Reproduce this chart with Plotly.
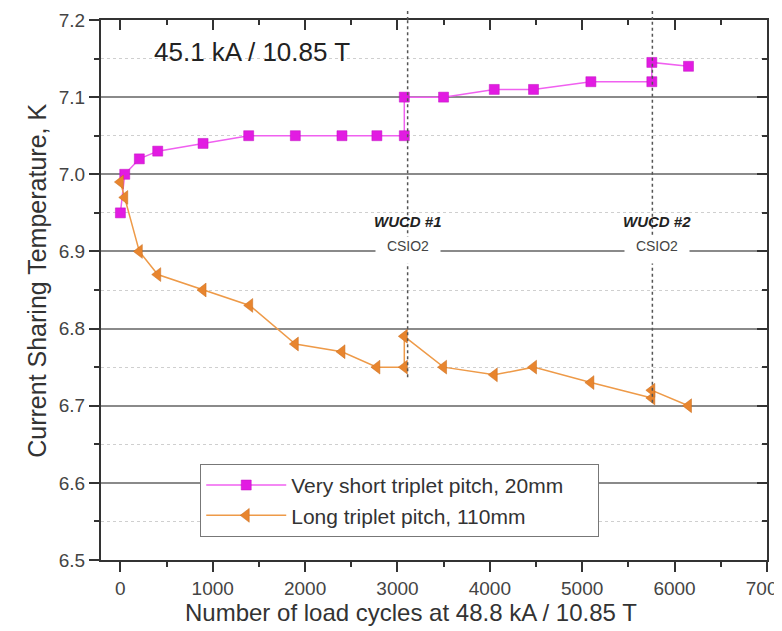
import plotly.graph_objects as go

# Data
short_x = [0, 47, 205, 404, 895, 1389, 1894, 2399, 2777, 3074, 3074, 3499, 4048, 4473, 5094, 5754, 5754, 6151]
short_y = [6.95, 7.00, 7.02, 7.03, 7.04, 7.05, 7.05, 7.05, 7.05, 7.05, 7.10, 7.10, 7.11, 7.11, 7.12, 7.12, 7.145, 7.14]
long_x = [0, 47, 205, 404, 895, 1400, 1894, 2399, 2777, 3074, 3074, 3499, 4048, 4473, 5094, 5754, 5754, 6151]
long_y = [6.99, 6.97, 6.90, 6.87, 6.85, 6.83, 6.78, 6.77, 6.75, 6.75, 6.79, 6.75, 6.74, 6.75, 6.73, 6.71, 6.72, 6.70]
series_names = ["Very short triplet pitch, 20mm\u00a0\u00a0\u00a0\u00a0\u00a0", "Long triplet pitch, 110mm"]
wucd_x = [3110, 5760]
wucd_bottom = [6.737, 6.704]
wucd_labels = ["WUCD #1", "WUCD #2"]
wucd_label_x = [3110, 5808]
x_title = "Number of load cycles at 48.8 kA / 10.85 T"
y_title = "Current Sharing Temperature, K"
x_range = [-210, 7001]
y_range = [6.5, 7.2]

FONT = "Liberation Sans, Arial, sans-serif"
AX = "#333333"

fig = go.Figure()
fig.add_trace(go.Scatter(
    x=short_x, y=short_y, mode="lines+markers", name=series_names[0],
    line=dict(color="#F060F0", width=1.5),
    marker=dict(symbol="square", size=10, color="#E21BE2", line=dict(color="#C010C0", width=0.5)),
))
fig.add_trace(go.Scatter(
    x=long_x, y=long_y, mode="lines+markers", name=series_names[1],
    line=dict(color="#EE9A48", width=1.5),
    marker=dict(symbol="triangle-left", size=12, color="#E8852E", line=dict(color="#C86A1A", width=0.5)),
))
# invisible trace for mirrored axes
fig.add_trace(go.Scatter(x=[x_range[0]], y=[y_range[0]], xaxis="x2", yaxis="y2",
                         mode="markers", marker=dict(opacity=0), showlegend=False, hoverinfo="skip"))

for xv, yb in zip(wucd_x, wucd_bottom):
    fig.add_shape(type="line", xref="x", yref="y", x0=xv, x1=xv, y0=yb, y1=7.2,
                  line=dict(color="#555555", width=1.5, dash="dot"))
    fig.add_shape(type="line", xref="x", yref="paper", x0=xv, x1=xv, y0=1.0, y1=1.022,
                  line=dict(color="#555555", width=1.5, dash="dot"))

annotations = [
    dict(x=1430, y=7.1585, xref="x", yref="y", text="45.1 kA / 10.85 T", showarrow=False,
         font=dict(family=FONT, size=26, color="#222222")),
    dict(x=0.4655, y=-0.0963, xref="paper", yref="paper", text=x_title, showarrow=False,
         xanchor="center", yanchor="middle", font=dict(family=FONT, size=24, color="#333333")),
    dict(x=-0.0964, y=0.5167, xref="paper", yref="paper", text=y_title, showarrow=False, textangle=-90,
         xanchor="center", yanchor="middle", font=dict(family=FONT, size=25, color="#333333")),
]
for xv, lab in zip(wucd_label_x, wucd_labels):
    annotations.append(dict(x=xv, y=6.939, xref="x", yref="y", text="<b><i>" + lab + "</i></b>",
                            showarrow=False, font=dict(family=FONT, size=15, color="#222222")))
    annotations.append(dict(x=xv, y=6.902, xref="x", yref="y", text="CSIO2", showarrow=False,
                            bgcolor="white", width=62, height=24, valign="top",
                            font=dict(family=FONT, size=14, color="#444444")))
fig.update_layout(annotations=annotations)

fig.update_layout(
    width=774, height=623,
    margin=dict(l=93, r=15, t=12, b=71),
    paper_bgcolor="white", plot_bgcolor="white",
    font=dict(family=FONT, color=AX),
    xaxis=dict(
        range=x_range, dtick=1000, tick0=0, ticks="outside", ticklen=10, tickwidth=2, tickcolor=AX,
        showline=True, linecolor=AX, linewidth=2, showgrid=False, zeroline=False, automargin=False,
        tickfont=dict(size=19, color="#444444"), ticklabeloverflow="allow",
        minor=dict(dtick=500, tick0=0, ticks="outside", ticklen=5, tickwidth=2, tickcolor=AX, showgrid=False),
    ),
    yaxis=dict(
        range=y_range, dtick=0.1, tick0=6.5, tickformat=".1f", ticks="outside", ticklen=10, tickwidth=2, tickcolor=AX,
        showline=True, linecolor=AX, linewidth=2, zeroline=False, automargin=False,
        showgrid=True, gridcolor="#8a8a8a", gridwidth=1.5,
        tickfont=dict(size=19, color="#444444"), ticklabeloverflow="allow",
        minor=dict(dtick=0.05, tick0=6.5, ticks="outside", ticklen=5, tickwidth=2, tickcolor=AX,
                   showgrid=True, gridcolor="#cfcfcf", griddash="dot", gridwidth=1),
    ),
    xaxis2=dict(
        range=x_range, overlaying="x", side="top", dtick=1000, tick0=0, ticks="inside", ticklen=10, tickwidth=2,
        tickcolor=AX, showline=True, linecolor=AX, linewidth=2, showgrid=False, zeroline=False,
        showticklabels=False, automargin=False,
        minor=dict(dtick=500, tick0=0, ticks="inside", ticklen=5, tickwidth=2, tickcolor=AX, showgrid=False),
    ),
    yaxis2=dict(
        range=y_range, overlaying="y", side="right", dtick=0.1, tick0=6.5, ticks="inside", ticklen=10, tickwidth=2,
        tickcolor=AX, showline=True, linecolor=AX, linewidth=2, showgrid=False, zeroline=False,
        showticklabels=False, automargin=False,
        minor=dict(dtick=0.05, tick0=6.5, ticks="inside", ticklen=5, tickwidth=2, tickcolor=AX, showgrid=False),
    ),
    legend=dict(
        x=0.149, y=0.178, xanchor="left", yanchor="top",
        bgcolor="white", bordercolor="#777777", borderwidth=1,
        font=dict(size=21, color="#333333"), tracegroupgap=0, itemwidth=80,
    ),
    showlegend=True,
)

fig.write_html("out.html")
